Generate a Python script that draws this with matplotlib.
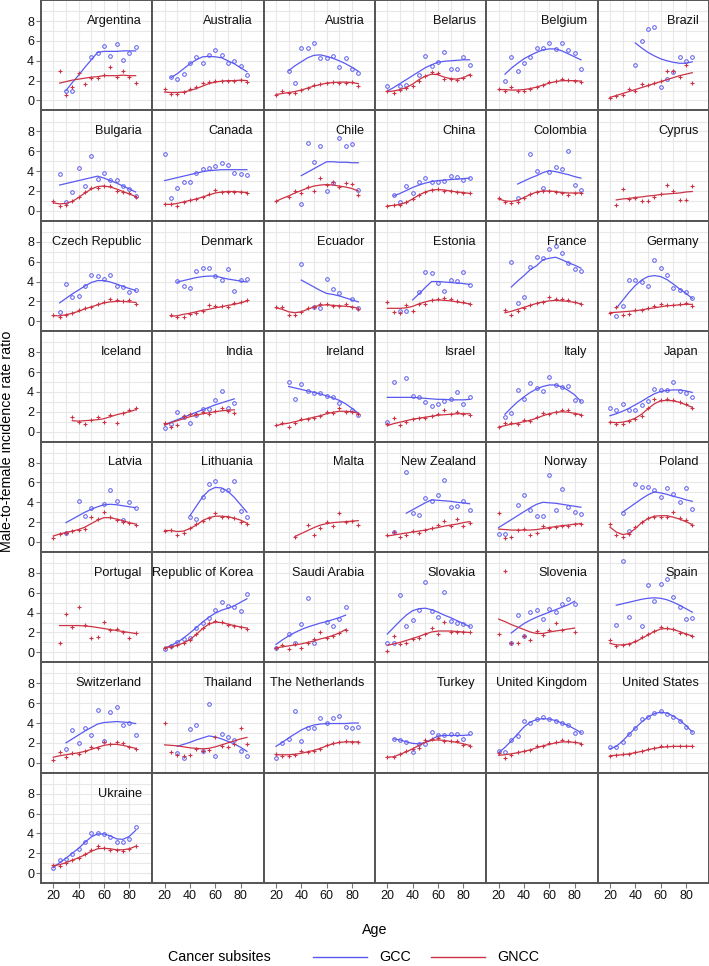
import numpy as np
import matplotlib
matplotlib.use('Agg')
import matplotlib.pyplot as plt
from matplotlib.lines import Line2D

plt.rcParams['font.family'] = ['Liberation Sans', 'DejaVu Sans']

na = np.nan
ages = [20, 25, 30, 35, 40, 45, 50, 55, 60, 65, 70, 75, 80, 85]

countries = [
    'Argentina', 'Australia', 'Austria', 'Belarus', 'Belgium', 'Brazil',
    'Bulgaria', 'Canada', 'Chile', 'China', 'Colombia', 'Cyprus',
    'Czech Republic', 'Denmark', 'Ecuador', 'Estonia', 'France', 'Germany',
    'Iceland', 'India', 'Ireland', 'Israel', 'Italy', 'Japan',
    'Latvia', 'Lithuania', 'Malta', 'New Zealand', 'Norway', 'Poland',
    'Portugal', 'Republic of Korea', 'Saudi Arabia', 'Slovakia', 'Slovenia', 'Spain',
    'Switzerland', 'Thailand', 'The Netherlands', 'Turkey', 'United Kingdom', 'United States',
    'Ukraine',
]

# GCC observed ratios (circles)
gcc_pts = {
    'Argentina': [na, na, 1.0, 1.0, na, na, 4.4, 4.8, 5.45, 4.5, 5.7, 4.1, 4.75, 5.35],
    'Australia': [na, 2.35, 2.2, 2.7, 3.75, 4.4, 3.75, 4.55, 5.1, 4.55, 3.75, 3.95, 3.5, 2.6],
    'Austria': [na, na, 3.0, 1.8, 5.25, 5.25, 5.8, 4.3, 4.3, 4.5, 3.35, 4.3, 3.15, 2.8],
    'Belarus': [1.45, na, 1.5, 1.6, na, 2.6, 4.5, 3.5, 3.85, 4.9, 3.2, 3.2, 4.35, 3.6],
    'Belgium': [na, 2.0, 4.4, 3.0, 3.8, 4.35, 5.3, 5.3, 5.75, 5.15, 5.75, 5.1, 4.8, 3.2],
    'Brazil': [na, na, na, na, 3.55, 6.0, 7.2, 7.4, 1.35, 2.15, 2.85, 4.35, 3.95, 4.35],
    'Bulgaria': [na, 3.75, 0.9, 1.85, 4.35, 2.5, 5.55, 3.25, 3.85, 3.15, 3.15, 2.5, 2.2, 1.5],
    'Canada': [5.75, 1.3, 2.3, 2.9, 2.95, 3.85, 4.2, 4.3, 4.5, 4.8, 4.65, 3.85, 3.75, 3.6],
    'Chile': [na, na, na, na, 0.65, 6.8, 4.9, 6.55, 2.05, 2.85, 7.35, 6.5, 6.75, 2.1],
    'China': [na, 1.6, 0.9, 2.5, 1.8, 2.9, 3.35, 2.9, 2.9, 3.0, 3.55, 3.45, 3.15, 3.3],
    'Colombia': [na, na, na, 1.3, na, 5.7, 4.0, 2.35, 3.95, 4.45, 4.25, 6.05, 2.6, 2.15],
    'Czech Republic': [na, 0.95, 3.75, 2.4, 2.5, 3.55, 4.7, 4.6, 4.3, 4.7, 3.6, 3.45, 2.95, 3.15],
    'Denmark': [na, na, 4.05, 3.55, 3.3, 5.1, 5.4, 5.35, 4.55, 4.15, 5.3, 3.05, 4.15, 4.25],
    'Ecuador': [na, na, na, na, 5.8, na, 1.45, 1.35, 4.25, 3.25, 2.8, na, 2.25, 1.35],
    'Estonia': [na, na, 1.0, 1.05, na, 2.95, 4.95, 4.85, 3.85, 3.05, 4.2, 4.05, 5.0, 3.7],
    'France': [na, na, 6.0, 1.8, 2.4, 5.45, 6.5, 6.4, 7.25, 7.55, 6.85, 5.9, 5.25, 5.05],
    'Germany': [na, 0.5, 1.5, 4.15, 4.15, 4.0, 3.55, 6.2, 5.4, 4.65, 3.35, 3.1, 2.9, 2.3],
    'India': [0.35, 0.75, 2.0, 1.5, 0.85, 1.7, 2.3, 2.3, 3.15, 4.1, 2.4, 2.85, na, na],
    'Ireland': [na, na, 5.05, 3.25, 4.75, 4.05, 3.9, 3.9, 3.6, 3.5, 2.85, na, 2.2, 1.7],
    'Israel': [0.95, 4.95, na, 5.4, 3.6, 3.5, 3.0, 2.55, 2.8, 3.1, 3.25, 3.95, 2.75, 3.5],
    'Italy': [na, 1.5, 1.85, 4.2, 3.25, 4.85, 4.4, 4.1, 5.5, 4.65, 4.5, 4.55, 3.2, 3.1],
    'Japan': [2.4, 2.15, 2.75, 2.2, 2.2, 2.65, 3.1, 4.25, 4.2, 4.2, 4.95, 4.1, 3.85, 3.5],
    'Latvia': [na, na, 0.9, na, 4.15, 2.65, 3.4, na, 3.85, 5.2, 4.15, 2.2, 4.05, 3.4],
    'Lithuania': [na, na, na, na, 2.55, 2.3, 4.55, 5.8, 6.1, 5.2, 5.2, 6.1, 3.15, 2.55],
    'New Zealand': [na, 1.0, na, 7.05, 2.9, 2.75, 4.45, 4.15, 4.75, 6.2, 3.5, 3.65, 4.1, 3.2],
    'Norway': [0.85, 0.85, na, 3.75, 4.7, 3.25, 2.65, 2.65, 6.8, 3.2, 5.35, 3.5, 3.0, 2.8],
    'Poland': [na, na, 2.9, 1.1, 5.85, 5.5, 5.5, 5.2, 4.55, 5.4, 4.8, 4.05, 5.4, 3.3],
    'Republic of Korea': [0.35, 0.6, 1.0, 1.3, 1.45, 2.45, 2.95, 3.45, 4.3, 5.05, 4.7, 4.6, 4.2, 5.9],
    'Saudi Arabia': [0.45, na, 1.85, 0.95, 2.85, 5.45, 0.9, na, 3.05, 2.7, 3.35, 4.6, na, na],
    'Slovakia': [0.95, 0.95, 5.8, 2.7, 3.25, 4.25, 7.1, 4.15, 3.55, 6.1, 3.15, 2.95, 2.85, 2.65],
    'Slovenia': [na, na, 0.95, 3.8, 1.6, 4.05, 4.25, 3.35, 4.35, 4.05, 4.9, 5.35, 4.9, na],
    'Spain': [na, 2.8, 9.25, 3.55, na, 2.7, 6.8, 5.15, 6.9, 7.35, 5.55, 4.6, 3.35, 3.45],
    'Switzerland': [na, na, 1.4, 3.3, 1.95, 3.55, 2.8, 5.3, 2.15, 5.1, 5.65, 3.85, 4.05, 2.8],
    'Thailand': [na, na, 1.0, 0.5, 3.35, 3.85, 1.15, 5.95, 0.7, 2.9, 2.6, 2.3, 1.2, 0.7],
    'The Netherlands': [0.45, 2.0, 2.4, 5.2, 2.15, 3.55, 3.55, 4.5, 4.05, 4.5, 4.7, 3.65, 3.5, 3.65],
    'Turkey': [na, 2.4, 2.25, 2.1, 1.05, 1.9, 1.9, 3.1, 2.8, 2.8, 2.9, 2.9, 2.4, 3.0],
    'United Kingdom': [1.15, 1.05, 2.25, 2.7, 4.25, 4.05, 4.4, 4.65, 4.4, 4.25, 4.0, 3.8, 3.0, 3.1],
    'United States': [1.55, 1.55, 2.1, 2.9, 3.45, 4.4, 4.6, 5.0, 5.2, 4.95, 4.6, 4.25, 3.65, 3.1],
    'Ukraine': [0.5, 1.3, 1.4, 1.9, 2.4, 3.1, 4.05, 4.05, 3.95, 3.65, 3.1, 3.1, 3.45, 4.65],
}

# GCC smoothed curves
gcc_fit = {
    'Argentina': [na, na, 1.0, 1.8, 2.55, 3.35, 4.1, 4.85, 4.95, 4.95, 4.95, 5.0, 5.0, 5.0],
    'Australia': [na, 2.3, 2.7, 3.2, 3.7, 4.1, 4.4, 4.45, 4.4, 4.3, 4.0, 3.7, 3.3, 2.9],
    'Austria': [na, na, 3.0, 3.5, 3.9, 4.3, 4.55, 4.6, 4.45, 4.25, 4.0, 3.7, 3.35, 2.95],
    'Belarus': [0.95, 1.3, 1.7, 2.1, 2.5, 2.9, 3.3, 3.6, 3.85, 3.95, 4.0, 4.05, 4.1, 4.1],
    'Belgium': [na, 2.65, 3.25, 3.75, 4.2, 4.55, 4.85, 5.1, 5.2, 5.2, 5.0, 4.7, 4.4, 4.1],
    'Brazil': [na, na, na, na, 5.8, 5.3, 4.85, 4.5, 4.2, 4.0, 3.85, 3.75, 3.75, 3.9],
    'Bulgaria': [na, 2.6, 2.75, 2.9, 3.05, 3.2, 3.35, 3.5, 3.3, 3.05, 2.8, 2.5, 2.2, 1.9],
    'Canada': [3.05, 3.2, 3.35, 3.5, 3.65, 3.8, 3.95, 4.05, 4.1, 4.15, 4.15, 4.15, 4.15, 4.15],
    'Chile': [na, na, na, na, 3.55, 3.9, 4.25, 4.6, 4.95, 4.95, 4.9, 4.9, 4.85, 4.85],
    'China': [na, 1.5, 1.75, 2.05, 2.35, 2.6, 2.8, 2.95, 3.05, 3.1, 3.15, 3.2, 3.25, 3.3],
    'Colombia': [na, na, na, 2.7, 3.0, 3.3, 3.55, 3.85, 4.05, 3.95, 3.8, 3.65, 3.45, 3.3],
    'Czech Republic': [na, 1.85, 2.3, 2.75, 3.15, 3.55, 3.9, 4.1, 4.1, 3.95, 3.75, 3.5, 3.3, 3.1],
    'Denmark': [na, na, 3.95, 4.1, 4.25, 4.4, 4.5, 4.55, 4.55, 4.4, 4.25, 4.15, 4.05, 3.95],
    'Ecuador': [na, na, na, na, 4.15, 3.8, 3.45, 3.1, 2.8, 2.7, 2.55, 2.35, 2.15, 1.95],
    'Estonia': [na, na, na, na, 2.15, 2.75, 3.4, 4.0, 4.0, 3.95, 3.9, 3.85, 3.8, 3.7],
    'France': [na, na, 3.45, 4.05, 4.6, 5.2, 5.6, 6.2, 6.35, 6.45, 6.2, 5.9, 5.65, 5.35],
    'Germany': [na, 1.3, 2.1, 2.9, 3.6, 4.15, 4.5, 4.6, 4.5, 4.2, 3.75, 3.25, 2.8, 2.3],
    'India': [0.7, 0.95, 1.2, 1.45, 1.7, 1.95, 2.2, 2.45, 2.7, 2.9, 3.1, 3.3, na, na],
    'Ireland': [na, na, 4.55, 4.4, 4.25, 4.1, 3.95, 3.8, 3.6, 3.4, 3.15, 2.8, 2.35, 1.85],
    'Israel': [3.45, 3.45, 3.45, 3.45, 3.45, 3.4, 3.35, 3.3, 3.25, 3.25, 3.2, 3.2, 3.2, 3.25],
    'Italy': [na, 1.75, 2.4, 3.0, 3.5, 3.95, 4.3, 4.55, 4.7, 4.7, 4.5, 4.15, 3.7, 3.05],
    'Japan': [1.6, 1.8, 2.05, 2.35, 2.7, 3.05, 3.45, 3.8, 4.05, 4.15, 4.2, 4.2, 4.1, 3.95],
    'Latvia': [na, na, 1.95, 2.3, 2.65, 3.0, 3.3, 3.55, 3.75, 3.8, 3.75, 3.65, 3.55, 3.45],
    'Lithuania': [na, na, na, na, 2.65, 3.6, 4.55, 5.2, 5.5, 5.45, 5.1, 4.5, 3.75, 3.0],
    'New Zealand': [na, na, na, 2.9, 3.25, 3.6, 3.95, 4.25, 4.2, 4.15, 4.1, 4.0, 3.95, 3.85],
    'Norway': [1.45, 1.85, 2.25, 2.65, 3.05, 3.45, 3.8, 4.0, 3.95, 3.9, 3.8, 3.7, 3.6, 3.5],
    'Poland': [na, na, 3.0, 3.45, 3.9, 4.35, 4.75, 5.05, 4.95, 4.8, 4.6, 4.45, 4.25, 4.1],
    'Republic of Korea': [0.4, 0.7, 1.0, 1.45, 1.95, 2.5, 3.05, 3.55, 3.95, 4.25, 4.45, 4.7, 5.05, 5.4],
    'Saudi Arabia': [0.8, 1.25, 1.65, 2.0, 2.3, 2.55, 2.75, 2.95, 3.1, 3.3, 3.5, 3.75, na, na],
    'Slovakia': [1.85, 2.5, 3.15, 3.75, 4.2, 4.4, 4.45, 4.3, 4.05, 3.75, 3.5, 3.2, 2.9, 2.6],
    'Slovenia': [na, na, 1.95, 2.45, 2.9, 3.25, 3.55, 3.8, 4.05, 4.3, 4.55, 4.8, 5.15, na],
    'Spain': [na, 4.75, 4.9, 5.05, 5.2, 5.35, 5.45, 5.5, 5.45, 5.3, 5.05, 4.75, 4.4, 4.05],
    'Switzerland': [na, na, 2.0, 2.4, 2.8, 3.2, 3.55, 3.9, 4.05, 4.1, 4.15, 4.1, 4.05, 3.95],
    'Thailand': [na, na, 1.65, 1.85, 2.05, 2.3, 2.5, 2.7, 2.6, 2.4, 2.15, 1.9, 1.55, 1.15],
    'The Netherlands': [1.65, 2.05, 2.5, 2.9, 3.3, 3.6, 3.8, 3.9, 3.95, 3.95, 3.95, 3.95, 4.0, 4.0],
    'Turkey': [na, 2.4, 2.3, 2.1, 1.95, 1.9, 2.05, 2.35, 2.7, 2.75, 2.75, 2.75, 2.75, 2.8],
    'United Kingdom': [1.0, 1.55, 2.2, 2.9, 3.6, 4.1, 4.35, 4.45, 4.4, 4.25, 4.0, 3.75, 3.4, 3.05],
    'United States': [1.4, 1.65, 2.2, 2.85, 3.5, 4.1, 4.6, 4.95, 5.1, 5.0, 4.7, 4.3, 3.75, 3.1],
    'Ukraine': [0.55, 1.05, 1.5, 2.0, 2.5, 3.1, 3.65, 3.95, 3.95, 3.75, 3.45, 3.4, 3.7, 4.3],
}

# GNCC observed ratios (plus signs)
gncc_pts = {
    'Argentina': [na, 3.0, 0.5, 1.35, 2.8, 1.7, 2.3, 2.3, 2.55, 3.35, 2.4, 3.0, 2.4, 1.75],
    'Australia': [1.15, 0.65, 0.65, 0.85, 1.15, 1.4, 1.8, 1.85, 1.95, 1.95, 2.0, 2.0, 2.1, 1.9],
    'Austria': [0.55, 0.95, 0.75, 0.75, 1.1, 1.3, 1.55, 1.7, 1.75, 1.9, 1.8, 1.8, 1.9, 1.5],
    'Belarus': [0.95, 0.8, 1.1, 1.3, 1.5, 2.0, 2.5, 2.9, 2.75, 2.2, 2.2, 2.05, 2.25, 2.6],
    'Belgium': [1.15, 0.95, 1.35, 1.0, 0.95, 1.15, 1.4, 1.6, 1.85, 2.0, 2.2, 2.1, 2.0, 1.9],
    'Brazil': [0.25, 0.45, 0.5, 1.2, 1.0, 1.65, 1.55, 1.8, 2.0, 2.95, 2.95, 2.4, 3.55, 1.8],
    'Bulgaria': [0.95, 0.5, 0.6, 0.95, 1.4, 1.85, 2.3, 2.3, 2.55, 2.5, 2.05, 1.9, 1.8, 1.35],
    'Canada': [0.7, 0.65, 0.5, 0.9, 1.05, 1.15, 1.4, 1.65, 2.1, 1.9, 1.9, 1.9, 1.85, 1.8],
    'Chile': [1.0, na, 1.35, 1.95, 1.8, 2.4, 2.05, 3.35, 2.65, 2.9, 2.4, 2.8, 2.7, 1.6],
    'China': [0.5, 0.55, 0.55, 0.9, 1.2, 1.55, 1.85, 2.1, 2.2, 2.05, 1.95, 1.9, 1.8, 1.75],
    'Colombia': [1.25, 0.85, 0.75, 0.9, 1.3, 1.65, 1.85, 2.0, 1.95, 1.9, 1.8, 1.6, 1.75, 1.75],
    'Cyprus': [na, 0.6, 2.2, 1.15, 1.3, 0.95, 0.95, 1.35, 1.65, 2.6, 2.05, 1.1, 1.1, 2.5],
    'Czech Republic': [0.6, 0.4, 0.65, 0.85, 1.1, 1.3, 1.4, 1.75, 1.95, 2.25, 2.1, 2.0, 2.1, 1.7],
    'Denmark': [na, 0.6, 0.4, 0.4, 0.75, 0.85, 1.05, 1.65, 1.5, 1.5, 1.4, 1.85, 1.9, 2.1],
    'Ecuador': [1.4, 1.45, 0.65, 0.65, 0.9, 1.35, 1.45, 1.75, 1.75, 1.55, 1.5, 1.75, 1.45, 1.2],
    'Estonia': [1.9, 0.9, 0.85, 1.6, 1.05, 1.7, 1.7, 2.1, 2.2, 2.3, 2.25, 2.0, 1.95, 1.7],
    'France': [na, 1.15, 0.6, 1.0, 1.3, 1.6, 1.8, 1.95, 2.4, 2.2, 2.2, 2.1, 1.9, 1.7],
    'Germany': [0.85, 1.4, 0.6, 0.75, 1.15, 1.15, 1.3, 1.5, 1.7, 1.6, 1.6, 1.7, 1.8, 1.5],
    'Iceland': [na, na, na, 1.5, 1.0, 0.75, 1.15, 1.5, 1.0, 1.7, 0.85, 1.9, 2.15, 2.4],
    'India': [0.85, 0.45, 0.65, 1.55, 1.75, 1.75, 2.0, 1.75, 2.1, 2.4, 2.05, 1.9, na, na],
    'Ireland': [0.65, 0.85, 0.45, 0.85, 1.3, 1.25, 1.4, 1.55, 2.0, 1.9, 2.4, 2.0, 1.95, 1.75],
    'Israel': [0.75, 1.4, 0.65, 0.95, 1.3, 1.4, 1.4, 1.6, 1.75, 2.15, 1.75, 2.0, 1.75, 1.7],
    'Italy': [0.45, 0.85, 0.85, 0.75, 1.2, 1.1, 1.5, 1.9, 1.8, 2.0, 2.2, 2.15, 1.8, 1.7],
    'Japan': [0.95, 0.75, 0.75, 1.1, 1.3, 1.6, 2.4, 3.25, 3.15, 3.25, 3.15, 3.0, 2.75, 2.35],
    'Latvia': [0.35, 0.85, 0.95, 1.15, 1.25, 1.35, 2.5, 2.35, 3.0, 2.5, 2.2, 2.05, 1.9, 1.75],
    'Lithuania': [1.1, 1.25, 0.7, 0.9, 1.4, 1.85, 2.1, 2.4, 2.9, 2.5, 2.55, 2.45, 2.05, 1.85],
    'Malta': [na, na, na, 0.5, na, 1.75, 0.75, 1.45, 2.05, 1.6, 2.9, 2.05, 2.1, 1.75],
    'New Zealand': [0.75, 1.0, 0.5, 0.7, 1.1, 0.95, 1.2, 1.4, 1.7, 2.1, 1.6, 2.3, 1.6, 1.9],
    'Norway': [2.9, 0.35, 0.55, 1.2, 1.3, 0.75, 0.9, 1.65, 1.4, 1.5, 1.6, 1.65, 1.8, 1.85],
    'Poland': [1.85, 0.75, 0.55, 0.85, 1.55, 2.05, 2.4, 2.55, 2.55, 2.55, 3.05, 2.4, 2.2, 1.7],
    'Portugal': [na, 0.95, 3.85, 2.6, 4.6, 2.8, 1.45, 1.55, 3.1, 2.3, 2.4, 2.1, 1.45, 1.95],
    'Republic of Korea': [0.45, 0.5, 0.7, 0.95, 1.25, 1.85, 2.45, 2.95, 3.2, 3.05, 2.8, 2.7, 2.55, 2.4],
    'Saudi Arabia': [0.4, 0.7, 0.3, 0.8, 0.45, 0.9, 1.3, 2.0, 1.4, 1.6, 1.95, 2.3, na, na],
    'Slovakia': [0.1, 1.6, 0.85, 0.95, 1.3, 1.4, 1.8, 2.5, 1.85, 3.1, 2.1, 2.1, 2.05, 2.0],
    'Slovenia': [1.85, 8.25, 0.95, 0.95, 1.6, 1.2, 2.2, 1.7, 2.3, 2.95, 2.25, na, 2.1, na],
    'Spain': [1.2, 0.6, 0.7, 0.85, 1.1, 1.5, 1.8, 2.2, 2.6, 2.45, 2.4, 1.95, 1.8, 1.65],
    'Switzerland': [0.3, 1.05, 0.6, 0.95, 0.85, 1.15, 1.55, 1.5, 2.1, 1.9, 2.1, 2.0, 1.6, 1.4],
    'Thailand': [4.05, 1.05, 0.8, 0.7, 0.8, 1.4, 1.15, 1.3, 2.55, 1.65, 1.55, 1.9, 3.55, 1.9],
    'The Netherlands': [0.9, 0.7, 0.7, 0.8, 1.15, 1.05, 1.15, 1.4, 1.75, 2.0, 2.1, 2.15, 2.1, 2.05],
    'Turkey': [0.55, 0.55, 0.9, 1.15, 1.4, 1.5, 2.25, 2.4, 2.5, 2.2, 2.15, 2.2, 1.8, 1.65],
    'United Kingdom': [1.0, 0.45, 0.8, 1.05, 1.15, 1.25, 1.65, 1.7, 2.0, 2.1, 2.25, 2.15, 2.05, 1.85],
    'United States': [0.7, 0.8, 0.85, 0.9, 1.05, 1.2, 1.4, 1.5, 1.65, 1.65, 1.65, 1.65, 1.65, 1.65],
    'Ukraine': [0.8, 0.7, 1.0, 1.3, 1.55, 1.9, 2.35, 2.7, 2.55, 2.35, 2.3, 2.2, 2.4, 2.7],
}

# GNCC smoothed curves
gncc_fit = {
    'Argentina': [na, 1.75, 1.9, 2.05, 2.15, 2.25, 2.35, 2.4, 2.5, 2.5, 2.5, 2.55, 2.5, 2.5],
    'Australia': [0.85, 0.8, 0.8, 0.85, 1.0, 1.2, 1.45, 1.7, 1.85, 1.95, 2.0, 2.0, 2.05, 2.0],
    'Austria': [0.6, 0.7, 0.8, 0.9, 1.05, 1.25, 1.45, 1.6, 1.75, 1.8, 1.85, 1.85, 1.8, 1.7],
    'Belarus': [0.9, 0.95, 1.1, 1.3, 1.65, 2.1, 2.45, 2.65, 2.6, 2.35, 2.2, 2.15, 2.3, 2.6],
    'Belgium': [1.1, 1.1, 1.05, 1.05, 1.1, 1.2, 1.35, 1.55, 1.75, 1.9, 2.0, 2.0, 2.0, 1.95],
    'Brazil': [0.3, 0.5, 0.7, 0.9, 1.1, 1.3, 1.5, 1.7, 1.9, 2.1, 2.3, 2.5, 2.65, 2.8],
    'Bulgaria': [0.8, 0.7, 0.75, 0.95, 1.35, 1.8, 2.2, 2.45, 2.5, 2.4, 2.2, 1.95, 1.7, 1.45],
    'Canada': [0.65, 0.65, 0.75, 0.9, 1.05, 1.2, 1.4, 1.6, 1.8, 1.9, 1.95, 1.95, 1.9, 1.85],
    'Chile': [0.95, 1.25, 1.5, 1.8, 2.05, 2.3, 2.5, 2.6, 2.65, 2.6, 2.5, 2.4, 2.25, 2.0],
    'China': [0.5, 0.55, 0.65, 0.85, 1.2, 1.6, 1.9, 2.1, 2.15, 2.1, 2.0, 1.9, 1.85, 1.75],
    'Colombia': [1.2, 1.0, 0.95, 1.05, 1.35, 1.65, 1.9, 2.0, 2.0, 1.95, 1.85, 1.8, 1.8, 1.8],
    'Cyprus': [na, 1.1, 1.2, 1.25, 1.35, 1.4, 1.5, 1.55, 1.65, 1.7, 1.75, 1.8, 1.9, 1.95],
    'Czech Republic': [0.55, 0.55, 0.65, 0.8, 1.0, 1.25, 1.45, 1.65, 1.85, 1.95, 2.0, 2.0, 1.95, 1.9],
    'Denmark': [na, 0.5, 0.55, 0.7, 0.8, 0.95, 1.1, 1.2, 1.35, 1.45, 1.6, 1.7, 1.85, 2.05],
    'Ecuador': [1.35, 1.2, 0.95, 0.85, 0.95, 1.2, 1.45, 1.6, 1.65, 1.6, 1.55, 1.5, 1.45, 1.3],
    'Estonia': [1.3, 1.3, 1.3, 1.35, 1.5, 1.75, 1.95, 2.1, 2.15, 2.1, 2.05, 1.95, 1.85, 1.75],
    'France': [na, 0.85, 1.0, 1.2, 1.4, 1.6, 1.8, 1.95, 2.05, 2.1, 2.05, 2.0, 1.9, 1.75],
    'Germany': [0.85, 0.9, 0.95, 1.0, 1.05, 1.15, 1.25, 1.35, 1.45, 1.55, 1.6, 1.65, 1.7, 1.7],
    'Iceland': [na, na, na, 1.1, 1.05, 1.1, 1.15, 1.2, 1.3, 1.5, 1.7, 1.85, 2.0, 2.2],
    'India': [0.65, 0.9, 1.1, 1.3, 1.5, 1.65, 1.8, 1.9, 2.0, 2.1, 2.15, 2.2, na, na],
    'Ireland': [0.6, 0.75, 0.85, 1.0, 1.15, 1.3, 1.45, 1.6, 1.8, 1.95, 2.05, 2.05, 2.0, 1.85],
    'Israel': [0.6, 0.8, 0.95, 1.1, 1.25, 1.35, 1.45, 1.55, 1.65, 1.7, 1.75, 1.8, 1.8, 1.8],
    'Italy': [0.45, 0.6, 0.75, 0.85, 1.0, 1.15, 1.35, 1.6, 1.8, 1.95, 2.0, 1.95, 1.85, 1.7],
    'Japan': [0.95, 0.9, 0.95, 1.1, 1.35, 1.75, 2.3, 2.8, 3.1, 3.15, 3.1, 2.95, 2.7, 2.45],
    'Latvia': [0.6, 0.8, 0.95, 1.1, 1.25, 1.5, 1.85, 2.2, 2.45, 2.45, 2.3, 2.15, 1.95, 1.8],
    'Lithuania': [1.15, 1.15, 1.05, 1.1, 1.35, 1.7, 2.15, 2.45, 2.6, 2.6, 2.55, 2.4, 2.2, 1.9],
    'Malta': [na, na, na, 0.55, 0.85, 1.15, 1.45, 1.7, 1.85, 1.95, 2.0, 2.05, 2.1, 2.15],
    'New Zealand': [0.6, 0.7, 0.8, 0.9, 1.0, 1.1, 1.2, 1.35, 1.45, 1.6, 1.7, 1.8, 1.95, 2.05],
    'Norway': [1.3, 1.25, 1.2, 1.2, 1.2, 1.2, 1.25, 1.35, 1.45, 1.55, 1.65, 1.7, 1.8, 1.85],
    'Poland': [1.5, 1.0, 0.75, 0.85, 1.35, 1.95, 2.35, 2.6, 2.65, 2.65, 2.5, 2.3, 2.05, 1.75],
    'Portugal': [na, 2.7, 2.7, 2.7, 2.7, 2.65, 2.6, 2.5, 2.4, 2.3, 2.2, 2.1, 2.0, 1.9],
    'Republic of Korea': [0.5, 0.55, 0.7, 0.95, 1.3, 1.8, 2.4, 2.85, 3.05, 3.0, 2.85, 2.7, 2.55, 2.45],
    'Saudi Arabia': [0.45, 0.55, 0.65, 0.75, 0.85, 1.0, 1.15, 1.35, 1.5, 1.7, 1.95, 2.3, na, na],
    'Slovakia': [0.7, 0.85, 1.0, 1.2, 1.4, 1.6, 1.85, 2.05, 2.15, 2.15, 2.15, 2.1, 2.05, 2.0],
    'Slovenia': [3.35, 3.1, 2.8, 2.55, 2.3, 2.05, 1.9, 1.9, 2.05, 2.15, 2.25, 2.35, 2.45, na],
    'Spain': [0.9, 0.75, 0.75, 0.85, 1.05, 1.4, 1.75, 2.1, 2.35, 2.4, 2.3, 2.1, 1.85, 1.65],
    'Switzerland': [0.55, 0.7, 0.8, 0.9, 1.0, 1.15, 1.35, 1.55, 1.75, 1.85, 1.85, 1.75, 1.6, 1.45],
    'Thailand': [1.8, 1.75, 1.7, 1.6, 1.5, 1.45, 1.4, 1.45, 1.6, 1.8, 2.0, 2.2, 2.4, 2.55],
    'The Netherlands': [0.8, 0.8, 0.8, 0.85, 0.95, 1.1, 1.25, 1.45, 1.7, 1.9, 2.05, 2.1, 2.1, 2.1],
    'Turkey': [0.55, 0.6, 0.85, 1.1, 1.4, 1.75, 2.05, 2.25, 2.3, 2.25, 2.15, 2.05, 1.9, 1.75],
    'United Kingdom': [0.75, 0.8, 0.9, 1.0, 1.15, 1.3, 1.5, 1.7, 1.85, 2.0, 2.1, 2.1, 2.05, 1.95],
    'United States': [0.7, 0.75, 0.8, 0.9, 1.0, 1.15, 1.3, 1.45, 1.55, 1.6, 1.65, 1.65, 1.65, 1.65],
    'Ukraine': [0.75, 0.85, 1.05, 1.3, 1.55, 1.85, 2.2, 2.45, 2.5, 2.45, 2.35, 2.35, 2.45, 2.7],
}

blue = '#5a5af2'
red = '#cc3344'
W, H = 709, 966
x0 = 41            # left edge of the panel grid (px)
pw = (W - x0) / 6  # panel width
ph = 883 / 8       # panel height

fig = plt.figure(figsize=(W / 100, H / 100), dpi=100)

for i in range(48):
    r, c = divmod(i, 6)
    ax = fig.add_axes([(x0 + c * pw) / W, 1 - (r + 1) * ph / H, pw / W, ph / H])
    ax.set_xlim(10.3, 98.2)
    ax.set_ylim(-1.0, 10.13)
    ax.set_xticks([20, 40, 60, 80])
    ax.set_yticks([0, 2, 4, 6, 8])
    for s in ax.spines.values():
        s.set_color('#555555')
        s.set_linewidth(1.4)
    ax.tick_params(which='major', length=3.5, width=0.8, color='#777777',
                   labelsize=9, pad=1.5, labelcolor='#111111')
    ax.tick_params(which='minor', length=0)
    if c != 0:
        ax.tick_params(left=False, labelleft=False)
    if r != 7:
        ax.tick_params(bottom=False, labelbottom=False)

    if i >= len(countries):
        continue

    name = countries[i]
    ax.set_xticks([30, 50, 70], minor=True)
    ax.set_yticks([1, 3, 5, 7, 9], minor=True)
    ax.grid(which='both', color='#e8e8e8', linewidth=0.8)
    ax.set_axisbelow(True)

    if name in gcc_fit:
        ax.plot(ages, gcc_fit[name], color=blue, lw=0.9)
        ax.plot(ages, gcc_pts[name], 'o', ms=2.6, mfc='none', mec=blue, mew=0.7)
    ax.plot(ages, gncc_fit[name], color=red, lw=0.9)
    ax.plot(ages, gncc_pts[name], '+', ms=2.6, color=red, mew=0.8)

    ax.text(0.905, 0.81, name, transform=ax.transAxes, ha='right', va='center',
            fontsize=9.2, color='#111111')

fig.text(375 / W, 1 - 930 / H, 'Age', ha='center', va='center', fontsize=10.3)
fig.text(7 / W, 1 - 441 / H, 'Male-to-female incidence rate ratio', rotation=90,
         ha='center', va='center', fontsize=10.3)

# legend along the bottom
ly = 1 - 957 / H
fig.text(168 / W, ly, 'Cancer subsites', ha='left', va='center', fontsize=10.3)
fig.add_artist(Line2D([313 / W, 367 / W], [ly, ly], color=blue, lw=1.0, transform=fig.transFigure))
fig.text(379 / W, ly, 'GCC', ha='left', va='center', fontsize=10.3)
fig.add_artist(Line2D([431 / W, 485 / W], [ly, ly], color=red, lw=1.0, transform=fig.transFigure))
fig.text(497 / W, ly, 'GNCC', ha='left', va='center', fontsize=10.3)

fig.savefig('out.png', dpi=100)
